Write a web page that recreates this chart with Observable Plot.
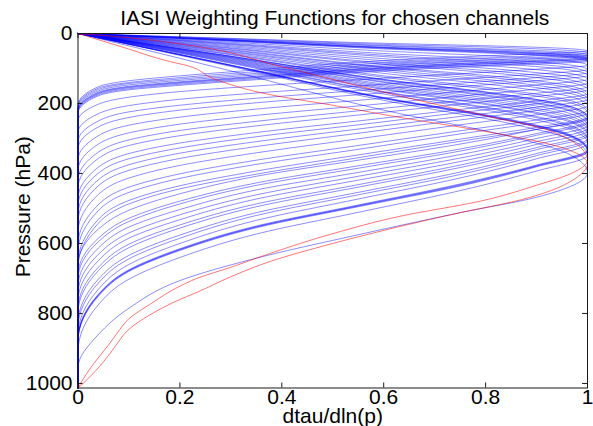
<!DOCTYPE html>
<html><head><meta charset="utf-8">
<script src="https://cdn.jsdelivr.net/npm/d3@7"></script>
<script src="https://cdn.jsdelivr.net/npm/@observablehq/plot@0.6"></script>
<style>html,body{margin:0;padding:0;background:#fff;}</style>
</head><body><div id="chart"></div>
<script>
const titleText = "IASI Weighting Functions for chosen channels";
const xLabel = "dtau/dln(p)";
const yLabel = "Pressure (hPa)";
const xTicks = [0, 0.2, 0.4, 0.6, 0.8, 1];
const xTickLabels = ["0", "0.2", "0.4", "0.6", "0.8", "1"];
const yTicks = [0, 200, 400, 600, 800, 1000];
const yTickLabels = ["0", "200", "400", "600", "800", "1000"];
const surfaceP = 1013;

// upper branch (above the peak): pressure at these x values
const xUpperGrid = [0.3, 0.6, 0.85, 0.96];
// lower branch (from peak back to zero): pressure at these x values
const xLowerGrid = [1, 0.9, 0.75, 0.55, 0.35, 0.2, 0.1, 0.04, 0];

const blueUpperP = [
  [14,28,37,43],[15,31,41,48],[17,34,46,53],[18,36,49,57],[19,39,52,60],
  [19,40,53,62],[20,41,55,64],[21,42,57,66],[22,44,59,69],
  [25,50,67,78],[28,57,76,89],[30,62,83,96],[32,66,89,103],[35,72,97,113],
  [38,78,105,122],[41,84,112,131],[43,88,118,138],[46,95,127,148],[48,98,132,154],
  [51,103,139,162],[53,108,145,169],[56,114,153,178],[59,121,163,189],[61,125,168,195],
  [65,131,177,206],[66,134,181,210],
  [65,132,178,206],[68,138,186,216],[69,140,189,219],[71,145,195,226],[73,149,201,233],
  [75,153,206,239],[77,157,212,246],[79,160,215,250],[81,166,223,259],[83,168,226,263],
  [85,173,232,270],[90,183,246,286],[91,184,248,288],[91,185,249,289],[92,186,251,291],
  [94,191,258,299],[107,219,295,342]
];
const blueLowerP = [
  [50,58,67,82,104,121,135,152,204],
  [56,64,73,88,109,126,140,156,208],
  [62,69,78,93,114,130,143,160,210],
  [66,73,82,97,118,134,147,164,214],
  [70,77,86,101,122,138,151,168,218],
  [72,79,88,103,124,140,153,170,220],
  [74,81,90,105,126,142,155,172,222],
  [77,84,93,108,129,145,158,175,225],
  [80,87,96,111,132,148,161,178,228],
  [91,102,115,132,150,166,182,202,250],
  [103,116,130,150,170,188,206,229,283],
  [112,126,142,163,185,205,224,250,309],
  [120,135,152,175,198,219,240,267,330],
  [131,147,166,191,216,239,262,292,361],
  [142,159,179,207,234,259,284,316,391],
  [152,171,192,221,251,277,304,339,419],
  [160,180,202,233,264,292,320,357,441],
  [172,193,217,250,283,313,343,382,472],
  [179,201,226,261,295,327,358,399,493],
  [188,211,237,273,309,342,375,418,516],
  [196,220,247,285,323,357,391,435,538],
  [207,232,261,301,341,377,413,460,568],
  [220,247,278,320,362,401,439,489,604],
  [227,255,287,331,374,414,454,506,625],
  [239,268,302,347,393,435,477,531,656],
  [244,274,308,355,402,444,487,542,670],
  [240,274,316,362,408,458,505,559,660],
  [251,286,330,378,427,479,528,585,690],
  [255,291,336,385,434,487,537,595,702],
  [263,300,346,397,447,503,553,613,724],
  [271,309,356,408,461,518,570,631,745],
  [278,317,366,419,473,532,585,649,766],
  [286,326,376,432,487,547,602,668,788],
  [291,332,383,439,495,556,612,678,800],
  [301,343,396,454,512,576,634,702,829],
  [306,349,403,461,520,585,644,713,842],
  [314,358,413,473,534,600,660,731,863],
  [332,376,430,490,550,615,675,745,874],
  [334,378,432,492,552,617,677,747,877],
  [336,379,434,493,553,618,678,748,878],
  [338,381,436,495,555,620,680,751,881],
  [348,393,449,511,573,640,702,775,910],
  [398,468,512,575,642,706,785,860,955]
];

// red channels: [x, pressure] pairs
const redSeries = [
  [[0,0],[0.1,12],[0.22,34],[0.4,95],[0.613,172],[0.8,235],[0.927,278],[1,362],
   [0.96,405],[0.908,430],[0.79,479],[0.633,522],[0.5,572],[0.378,628],[0.3,668],
   [0.233,700],[0.2,722],[0.14,775],[0.1,815],[0.08,850],[0.06,890],[0.03,945],[0.005,1000],[0,1013]],
  [[0,0],[0.09,40],[0.18,80],[0.215,92],[0.266,129],[0.378,175],[0.5,205],[0.613,235],
   [0.8,280],[0.93,318],[1,372],[0.97,420],[0.93,448],[0.87,475],[0.75,512],[0.633,551],
   [0.5,600],[0.378,651],[0.3,695],[0.233,740],[0.2,760],[0.14,805],[0.1,845],[0.075,890],
   [0.06,920],[0.04,955],[0.01,1000],[0,1013]]
];

const blueRows = [];
blueLowerP.forEach((low, i) => {
  const id = "b" + i;
  blueRows.push({id, x: 0, p: 0});
  xUpperGrid.forEach((x, j) => blueRows.push({id, x, p: blueUpperP[i][j]}));
  xLowerGrid.forEach((x, j) => blueRows.push({id, x, p: low[j]}));
  blueRows.push({id, x: 0, p: surfaceP});
});
const redRows = [];
redSeries.forEach((s, i) => s.forEach(([x, p]) => redRows.push({id: "r" + i, x, p})));

const W = 593, H = 426;
const mL = 77.5, mR = 6, mT = 33, mB = 38.5;
const pw = W - mL - mR, ph = H - mT - mB;
const ink = "#1a1a1a";

const chart = Plot.plot({
  width: W, height: H,
  marginLeft: mL, marginRight: mR, marginTop: mT, marginBottom: mB,
  style: {fontFamily: "'Liberation Sans', Arial, Helvetica, sans-serif", fontSize: "21px", color: "#000", background: "#fff", overflow: "visible"},
  x: {domain: [0, 1]},
  y: {domain: [0, surfaceP], reverse: true},
  marks: [
    Plot.line(blueRows, {x: "x", y: "p", z: "id", stroke: "#0000ff", strokeOpacity: 0.5, strokeWidth: 0.9, curve: "monotone-y"}),
    Plot.line(redRows, {x: "x", y: "p", z: "id", stroke: "#ff0000", strokeOpacity: 0.6, strokeWidth: 0.9, curve: "monotone-y"}),
    Plot.tickX(xTicks, {x: d => d, insetTop: ph - 5, stroke: ink}),
    Plot.tickX(xTicks, {x: d => d, insetBottom: ph - 5, stroke: ink}),
    Plot.tickY(yTicks, {y: d => d, insetRight: pw - 5, stroke: ink}),
    Plot.tickY(yTicks, {y: d => d, insetLeft: pw - 5, stroke: ink}),
    Plot.frame({stroke: ink}),
    Plot.axisX({ticks: xTicks, tickSize: 0, tickPadding: 1.5, fontSize: 21, label: null,
      tickFormat: d => xTickLabels[xTicks.indexOf(d)]}),
    Plot.axisY({ticks: yTicks, tickSize: 0, tickPadding: 5.5, fontSize: 21, label: null,
      tickFormat: d => yTickLabels[yTicks.indexOf(d)]}),
    Plot.text([titleText], {frameAnchor: "top", textAnchor: "middle", lineAnchor: "middle", dy: -15, dx: 2, fontSize: 21, fill: "#000"}),
    Plot.text([xLabel], {frameAnchor: "bottom", textAnchor: "middle", lineAnchor: "middle", dy: 28, fontSize: 21, fill: "#000"}),
    Plot.text([yLabel], {frameAnchor: "left", textAnchor: "middle", lineAnchor: "middle", rotate: -90, dx: -55, dy: -4, fontSize: 21, fill: "#000"})
  ]
});
document.getElementById("chart").appendChild(chart);
</script>
</body></html>
